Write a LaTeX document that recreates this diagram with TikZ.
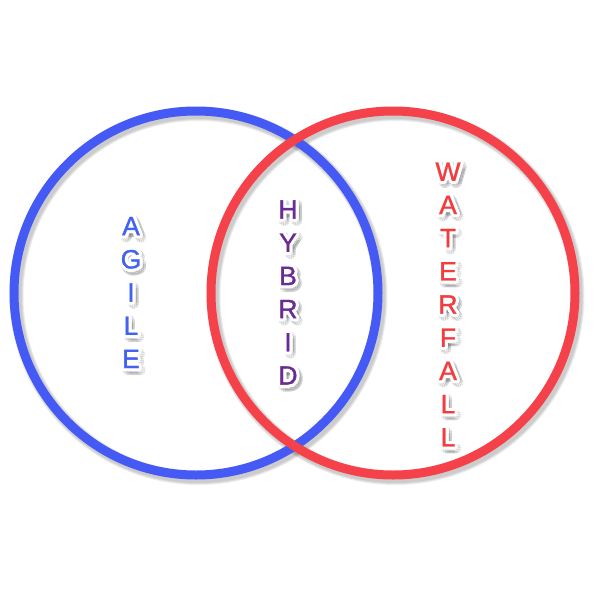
\documentclass[tikz,border=0pt]{standalone}
\usepackage{fontspec}
\setmainfont{Liberation Sans}
\newfontfamily\wfont[FakeBold=1.2]{Liberation Sans}
\usetikzlibrary{calc}
\definecolor{cblue}{HTML}{4559F5}
\definecolor{cred}{HTML}{F5424A}
\definecolor{tblue}{HTML}{4262F2}
\definecolor{tpurple}{HTML}{6A2C92}
\definecolor{tred}{HTML}{F23C3E}
\tikzset{
  ring/.style={line width=9pt},
  ringshadow/.style={draw=black, draw opacity=0.07},
  word/.style={font=\wfont\fontsize{26.5}{33.2}\selectfont, align=center, inner sep=0pt},
}
\newcommand{\fancyword}[5]{%
  \foreach \a in {0,30,...,330}{
    \node[word, text=black, text opacity=0.07] at ($(#2,#3)+(\a:4)+(2.5,3)$) {#5};
  }
  \foreach \a in {0,22.5,...,337.5}{
    \node[word, text=white] at ($(#2,#3)+(\a:3)$) {#5};
  }
  \node[word, text=#4] (#1) at (#2,#3) {#5};
}
\begin{document}
\begin{tikzpicture}[x=1pt,y=-1pt]
\useasboundingbox (0,0) rectangle (600,600);
\fill[white] (0,0) rectangle (600,600);
% shadows of rings
\foreach \d in {0,1,2}{
  \draw[ringshadow, line width=10pt+2*\d pt] (198.5,296) circle (182);
  \draw[ringshadow, line width=10pt+2*\d pt] (395.5,296) circle (182);
}
% rings
\draw[ring, draw=cblue] (196,293) coordinate (cb) circle (182);
\draw[ring, draw=cred] (393,293) coordinate (cr) circle (182);
% words
\fancyword{agile}{131}{292.5}{tblue}{A\\G\\I\\L\\E}
\fancyword{hybrid}{288}{292.5}{tpurple}{H\\Y\\B\\R\\I\\D}
\fancyword{waterfall}{448}{304.5}{tred}{W\\A\\T\\E\\R\\F\\A\\L\\L}
\end{tikzpicture}
\end{document}
